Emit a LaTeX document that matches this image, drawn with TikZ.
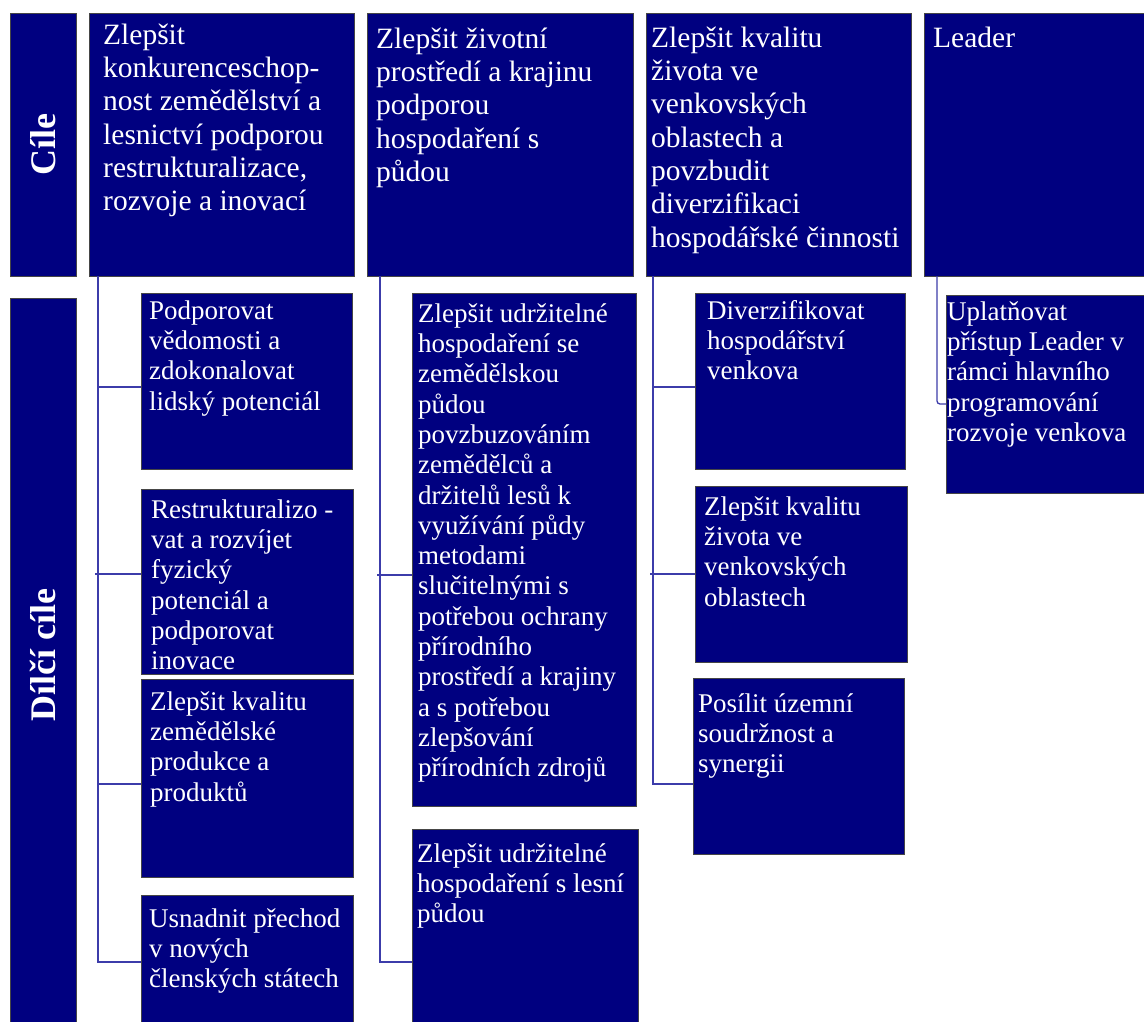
\documentclass[tikz,border=0pt]{standalone}
\usepackage{fontspec}
\setmainfont{Liberation Serif}
\definecolor{navyfill}{RGB}{0,0,128}
\definecolor{boxedge}{RGB}{70,70,70}
\definecolor{connblue}{RGB}{60,60,170}
\newcommand\mystrutT{\rule{0pt}{26pt}}
\newcommand\mystrutS{\rule{0pt}{24pt}}
\tikzset{
  box/.style={draw=boxedge, line width=0.9pt, fill=navyfill, inner sep=0pt, outer sep=0pt, anchor=north west},
  txtT/.style={anchor=north west, inner sep=0pt, text=white, align=left, font=\fontsize{29.5}{33.3}\selectfont},
  txtS/.style={anchor=north west, inner sep=0pt, text=white, align=left, font=\fontsize{27}{30.3}\selectfont},
  lbl/.style={text=white, inner sep=0pt, rotate=90, font=\bfseries\fontsize{36}{40}\selectfont},
  conn/.style={draw=connblue, line width=1.3pt}
}
\begin{document}
\begin{tikzpicture}[x=1pt,y=-1pt]
\useasboundingbox (0,0) rectangle (1144,1021);
\fill[white] (0,0) rectangle (1144,1021);
\clip (0,0) rectangle (1144,1021);

% left labels
\node[box, minimum width=66pt, minimum height=263pt] (cile) at (10,13) {};
\node[box, minimum width=66pt, minimum height=732pt] (dilci) at (10,298) {};
\node[lbl] (cilet) at (cile.center) {Cíle};
\node[lbl] (dilcit) at ([yshift=9pt]dilci.center) {Dílčí cíle};

% top boxes
\node[box, minimum width=265pt, minimum height=263pt] (c1) at (89,13) {};
\node[box, minimum width=266pt, minimum height=263pt] (c2) at (367,13) {};
\node[box, minimum width=265pt, minimum height=263pt] (c3) at (646,13) {};
\node[box, minimum width=226pt, minimum height=263pt] (c4) at (924,13) {};

\node[txtT] (c1t) at (103,18) {\mystrutT Zlepšit\\konkurenceschop-\\nost zemědělství a\\lesnictví podporou\\restrukturalizace,\\rozvoje a inovací};
\node[txtT] (c2t) at (376,22) {\mystrutT Zlepšit životní\\prostředí a krajinu\\podporou\\hospodaření s\\půdou};
\node[txtT] (c3t) at (651,21) {\mystrutT Zlepšit kvalitu\\života ve\\venkovských\\oblastech a\\povzbudit\\diverzifikaci\\hospodářské činnosti};
\node[txtT] (c4t) at (933,21) {\mystrutT Leader};

% sub boxes
\node[box, minimum width=211pt, minimum height=176pt] (s11) at (141,293) {};
\node[box, minimum width=212pt, minimum height=185pt] (s12) at (141,489) {};
\node[box, minimum width=212pt, minimum height=198pt] (s13) at (141,679) {};
\node[box, minimum width=212pt, minimum height=135pt] (s14) at (141,895) {};
\node[box, minimum width=224pt, minimum height=513pt] (s21) at (412,293) {};
\node[box, minimum width=226pt, minimum height=201pt] (s22) at (412,829) {};
\node[box, minimum width=210pt, minimum height=176pt] (s31) at (695,293) {};
\node[box, minimum width=212pt, minimum height=176pt] (s32) at (695,486) {};
\node[box, minimum width=211pt, minimum height=176pt] (s33) at (693,678) {};
\node[box, minimum width=204pt, minimum height=198pt] (s41) at (946,295) {};

\node[txtS] (s11t) at (149,295) {\mystrutS Podporovat\\vědomosti a\\zdokonalovat\\lidský potenciál};
\node[txtS] (s12t) at (151,494) {\mystrutS Restrukturalizo -\\vat a rozvíjet\\fyzický\\potenciál a\\podporovat\\inovace};
\node[txtS] (s13t) at (150,686) {\mystrutS Zlepšit kvalitu\\zemědělské\\produkce a\\produktů};
\node[txtS] (s14t) at (149,903) {\mystrutS Usnadnit přechod\\v nových\\členských státech};
\node[txtS] (s21t) at (418,298) {\mystrutS Zlepšit udržitelné\\hospodaření se\\zemědělskou\\půdou\\povzbuzováním\\zemědělců a\\držitelů lesů k\\využívání půdy\\metodami\\slučitelnými s\\potřebou ochrany\\přírodního\\prostředí a krajiny\\a s potřebou\\zlepšování\\přírodních zdrojů};
\node[txtS] (s22t) at (417,838) {\mystrutS Zlepšit udržitelné\\hospodaření s lesní\\půdou};
\node[txtS] (s31t) at (707,295) {\mystrutS Diverzifikovat\\hospodářství\\venkova};
\node[txtS] (s32t) at (704,491) {\mystrutS Zlepšit kvalitu\\života ve\\venkovských\\oblastech};
\node[txtS] (s33t) at (698,688) {\mystrutS Posílit územní\\soudržnost a\\synergii};
\node[txtS] (s41t) at (947,296) {\mystrutS Uplatňovat\\přístup Leader v\\rámci hlavního\\programování\\rozvoje venkova};

% connector points
\coordinate (t1) at ([xshift=9pt]c1.south west);
\coordinate (t2) at ([xshift=13pt]c2.south west);
\coordinate (t3) at ([xshift=7pt]c3.south west);
\coordinate (t4) at ([xshift=13pt]c4.south west);
\coordinate (b11) at ([yshift=-94pt]s11.north west);
\coordinate (b12) at ([yshift=-85pt]s12.north west);
\coordinate (b13) at ([yshift=-105pt]s13.north west);
\coordinate (b14) at ([yshift=-67pt]s14.north west);
\coordinate (b21) at ([yshift=-282pt]s21.north west);
\coordinate (b22) at ([yshift=-133pt]s22.north west);
\coordinate (b31) at ([yshift=-94pt]s31.north west);
\coordinate (b32) at ([yshift=-88pt]s32.north west);
\coordinate (b33) at ([yshift=-106pt]s33.north west);
\coordinate (b41) at ([yshift=-109pt]s41.north west);

% column 1
\draw[conn] (t1) |- (b14);
\draw[conn] (t1 |- b11) -- (b11);
\draw[conn] ([xshift=-3pt]t1 |- b12) -- (b12);
\draw[conn] (t1 |- b13) -- (b13);
% column 2
\draw[conn] (t2) |- (b22);
\draw[conn] ([xshift=-3pt]t2 |- b21) -- (b21);
% column 3
\draw[conn] (t3) |- (b33);
\draw[conn] (t3 |- b31) -- (b31);
\draw[conn] ([xshift=-3pt]t3 |- b32) -- (b32);
% column 4
\draw[conn, rounded corners=3pt] (t4) |- (b41);
\end{tikzpicture}
\end{document}
